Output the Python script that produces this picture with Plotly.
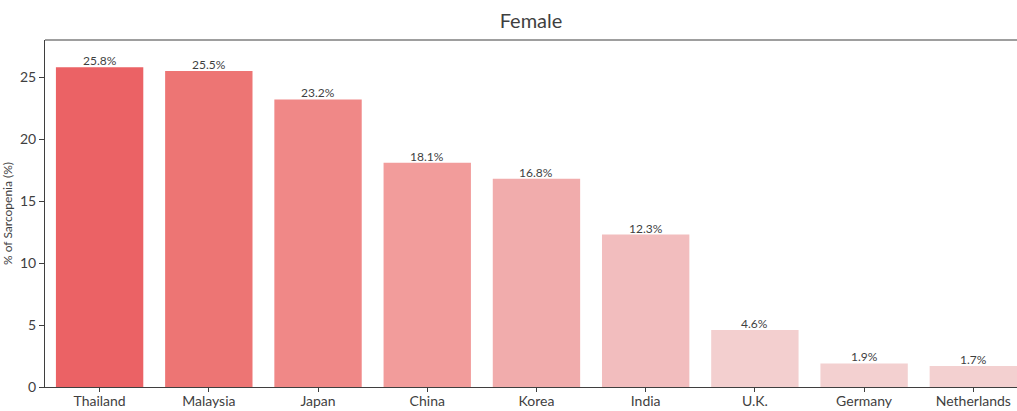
import plotly.graph_objects as go

countries = ["Thailand", "Malaysia", "Japan", "China", "Korea", "India", "U.K.", "Germany", "Netherlands"]
prevalence = [25.8, 25.5, 23.2, 18.1, 16.8, 12.3, 4.6, 1.9, 1.7]
bar_colors = ["#EB6265", "#ED7574", "#F08887", "#F29C9B", "#F1ACAC",
              "#F2BDBE", "#F3CFCF", "#F3D0D0", "#F3D0D0"]
labels = [f"{v}%" for v in prevalence]

FONT = "Lato, 'Noto Sans', sans-serif"
INK = "#3f3f3f"

fig = go.Figure(go.Bar(
    x=countries,
    y=prevalence,
    marker=dict(color=bar_colors, line=dict(width=0)),
    width=0.8,
))

# value labels sitting just above each bar
for c, v, t in zip(countries, prevalence, labels):
    fig.add_annotation(x=c, y=v, text=t, showarrow=False,
                       xanchor="center", yanchor="bottom", yshift=-3,
                       font=dict(family=FONT, size=12, color=INK))

fig.update_layout(
    width=1017, height=411,
    margin=dict(l=45, r=0, t=40, b=24),
    paper_bgcolor="white", plot_bgcolor="white",
    showlegend=False,
    title=dict(text="Female", x=0.5, xref="paper", y=0.95, yref="container",
               xanchor="center", yanchor="middle",
               font=dict(family=FONT, size=20, color=INK)),
    font=dict(family=FONT, color=INK),
)
fig.update_xaxes(
    range=[-0.5, 8.4], showgrid=False, zeroline=False,
    showline=True, linecolor=INK, linewidth=1,
    ticks="outside", ticklen=4, tickcolor=INK,
    ticklabelstandoff=-3,
    tickfont=dict(family=FONT, size=14, color=INK),
)
fig.update_yaxes(
    range=[0, 28], showgrid=False, zeroline=False,
    showline=True, linecolor=INK, linewidth=1, mirror=False,
    ticks="outside", ticklen=5, tickcolor=INK,
    tickvals=[0, 5, 10, 15, 20, 25],
    tickfont=dict(family=FONT, size=14, color=INK),
    title=dict(text="% of Sarcopenia (%)", standoff=6,
               font=dict(family=FONT, size=12, color=INK)),
)
# top border of the plotting area
fig.add_shape(type="line", xref="paper", yref="paper", x0=0, x1=1, y0=1, y1=1,
              line=dict(color=INK, width=1))

fig.write_html("out.html")
